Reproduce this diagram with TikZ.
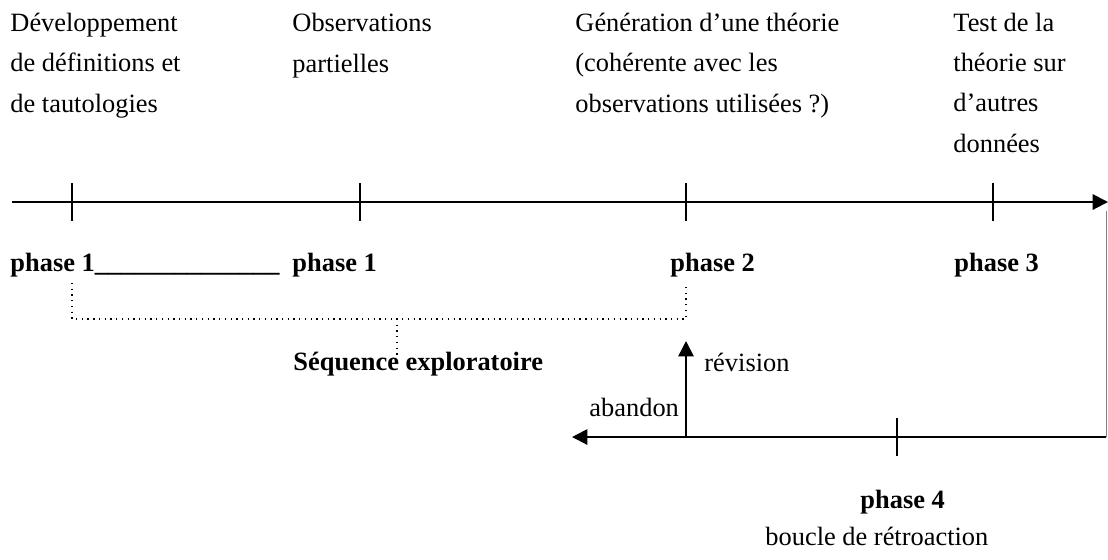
\documentclass[tikz,border=0pt]{standalone}
\usepackage{fontspec}
\setmainfont{Liberation Serif}
\usetikzlibrary{positioning,arrows.meta}
\tikzset{%
  every txt/.style={
    inner sep=0pt,
    align=left,
    anchor=base west
  },
  axis line/.style={
    line width=0.9pt
  },
}

\begin{document}
\begin{tikzpicture}[x=0.4545pt,y=-0.4545pt,>={Triangle[length=7pt,width=7pt]},font=\fontsize{12}{18.2}\selectfont]
      \tikzstyle{txt}=[every txt]
      \tikzstyle{phase}=[every txt,font=\fontsize{12}{18.2}\selectfont\bfseries]
      \tikzstyle{tick}=[line width=0.7pt]

      \useasboundingbox (0,0) rectangle (1108,559);

      % time axis
      \coordinate (start) at (12,202);
      \coordinate (end) at (1108,202);
      \coordinate (t1) at (72,202);
      \coordinate (t2) at (360,202);
      \coordinate (t3) at (686,202);
      \coordinate (t4) at (993,202);
      \draw[axis line,->] (start) -- (end);
      \foreach \t in {t1,t2,t3,t4}
        \draw[tick] (\t) ++(0,-19) -- ++(0,38);

      % base = last line
      \node[txt] (dev) at (10,112) {Développement\\de définitions et\\de tautologies};
      \node[txt] (obs) at (292,72) {Observations\\partielles};
      \node[txt] (gen) at (575,112) {Génération d’une théorie\\(cohérente avec les\\observations utilisées ?)};
      \node[txt] (test) at (953,152) {Test de la\\théorie sur\\d’autres\\données};

      \node[phase] (p1a) at (10,271) {phase 1\_\_\_\_\_\_\_\_\_\_\_\_\_\_};
      \node[phase] (p1b) at (292,271) {phase 1};
      \node[phase] (p2) at (670,271) {phase 2};
      \node[phase] (p3) at (954,271) {phase 3};

      % exploratory bracket
      \coordinate (s1) at (72,283);
      \coordinate (s2) at (686,283);
      \coordinate (sm) at (397,319);
      \draw[dotted,line width=0.6pt] (s1) |- (sm) -| (s2);
      \draw[dotted,line width=0.6pt] (sm) -- ++(0,36);
      \node[phase] (seq) at (293,370) {Séquence exploratoire};

      % feedback loop
      \coordinate (rtop) at (1106,211);
      \coordinate (rbot) at (1106,437);
      \coordinate (aba) at (572,437);
      \coordinate (rv) at (686,437);
      \coordinate (rvtip) at (686,341);
      \coordinate (t5) at (897,437);
      \draw[gray,line width=0.4pt] (rtop) -- (rbot);
      \draw[axis line,->] (rbot) -- (aba);
      \draw[line width=0.75pt,->] (rv) -- (rvtip);
      \draw[tick] (t5) ++(0,-19) -- ++(0,38);

      \node[txt] (rev) at (704,371) {révision};
      \node[txt] (aband) at (589,416) {abandon};
      \node[phase] (p4) at (860,508) {phase 4};
      \node[txt] (loop) at (765,545) {boucle de rétroaction};
  \end{tikzpicture}
\end{document}
